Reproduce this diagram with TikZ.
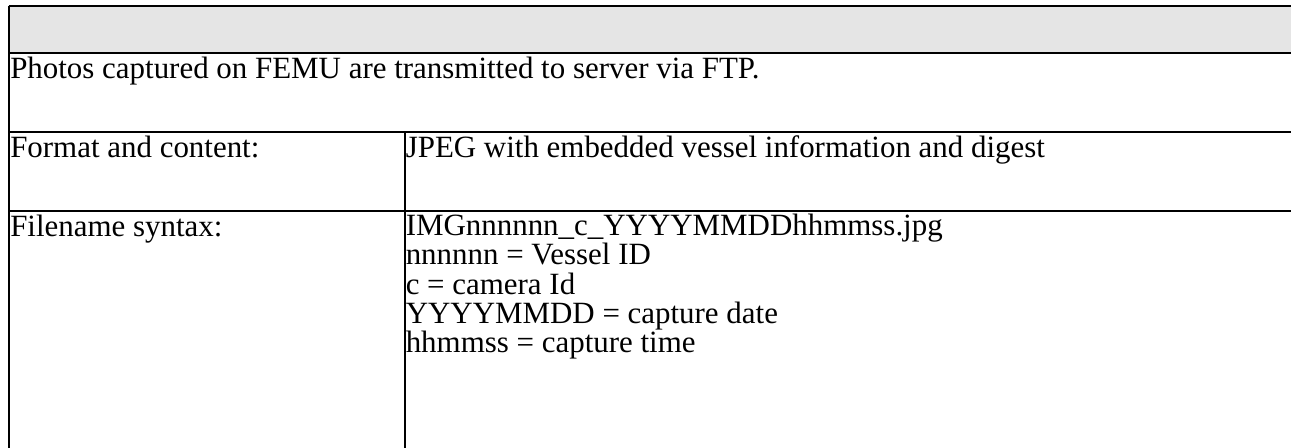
\documentclass[tikz,border=0pt]{standalone}
\usepackage{fontspec}
\setmainfont{Liberation Serif}
\usepackage{tikz}
\usetikzlibrary{positioning, calc}
\tikzstyle{cell} = [font=\fontsize{23.2}{22.1}\selectfont, anchor=base west, inner sep=0pt, align=left]
\tikzstyle{rule} = [line width=1.5pt]
\tikzstyle{header} = [fill=black!10]

\begin{document}
\begin{tikzpicture}[x=0.75pt, y=-0.75pt]
        \useasboundingbox (0,0) rectangle (1291,448);

        % Grid corners
        \coordinate (tl) at (8.5,6);
        \coordinate (tr) at (1291,6);
        \coordinate (hl) at (8.5,53.3);
        \coordinate (hr) at (1291,53.3);
        \coordinate (r1l) at (8.5,131.7);
        \coordinate (r1r) at (1291,131.7);
        \coordinate (r2l) at (8.5,211);
        \coordinate (r2r) at (1291,211);
        \coordinate (bl) at (8.5,448);
        \coordinate (div) at (404.5,131.7);

        % Header row
        \fill[header] (tl) rectangle (hr);

        % Rules
        \draw[rule] (tl) -- (tr);
        \draw[rule] (hl) -- (hr);
        \draw[rule] (r1l) -- (r1r);
        \draw[rule] (r2l) -- (r2r);
        \draw[rule] (tl) -- (bl);
        \draw[rule] (div) -- (div |- bl);

        % Cell texts (base of a multi-line cell is its last line)
        \node[cell] (intro) at (10,79) {Photos captured on FEMU are transmitted to server via FTP.};
        \node[cell] (fmt_key) at (10,158) {Format and content:};
        \node[cell] (fmt_val) at (405.5,158) {JPEG with embedded vessel information and digest};
        \node[cell] (name_key) at (10,237) {Filename syntax:};
        \node[cell] (name_val) at (405.5,353) {IMGnnnnnn\_c\_YYYYMMDDhhmmss.jpg\\nnnnnn = Vessel ID\\c = camera Id\\YYYYMMDD = capture date\\hhmmss = capture time};
    \end{tikzpicture}
\end{document}
